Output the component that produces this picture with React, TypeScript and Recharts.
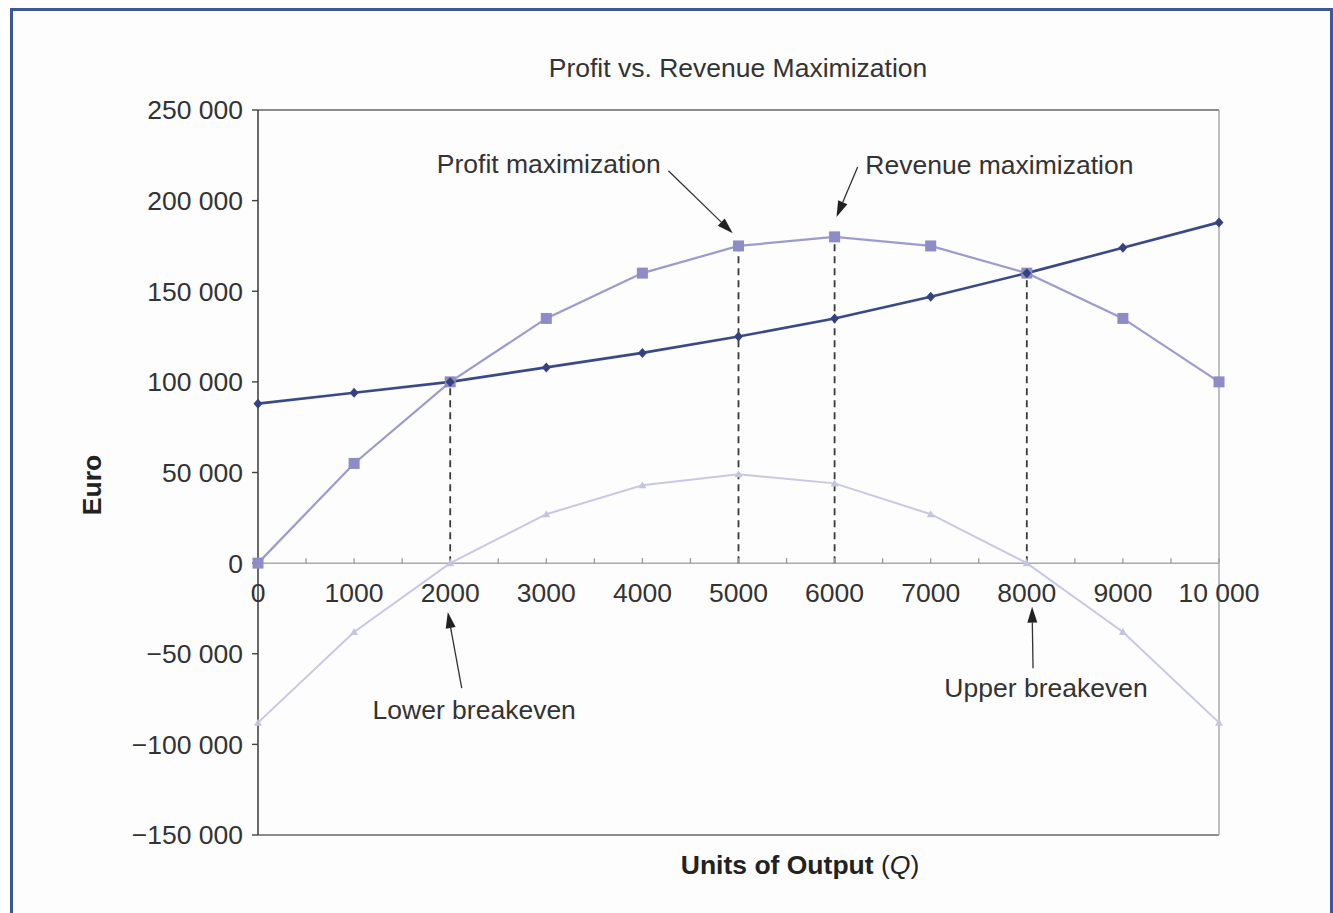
import React from 'react';
import {
  LineChart,
  Line,
  XAxis,
  YAxis,
  ReferenceLine,
  ReferenceDot,
} from 'recharts';

const quantities = [0, 1000, 2000, 3000, 4000, 5000, 6000, 7000, 8000, 9000, 10000];
const revenue = [0, 55000, 100000, 135000, 160000, 175000, 180000, 175000, 160000, 135000, 100000];
const totalCost = [88000, 94000, 100000, 108000, 116000, 125000, 135000, 147000, 160000, 174000, 188000];
const profit = [-88000, -38000, 0, 27000, 43000, 49000, 44000, 27000, 0, -38000, -88000];

const yTicks = [-150000, -100000, -50000, 0, 50000, 100000, 150000, 200000, 250000];
const xTicks = [0, 500, 1000, 1500, 2000, 2500, 3000, 3500, 4000, 4500, 5000, 5500, 6000, 6500, 7000, 7500, 8000, 8500, 9000, 9500, 10000];
const xTickLabels = ['0', '1000', '2000', '3000', '4000', '5000', '6000', '7000', '8000', '9000', '10 000'];

// quantities where a dashed drop line runs from the revenue curve to zero
const dropLineQs = [2000, 5000, 6000, 8000];

// callouts: text position, arrow tail and arrow head, in chart units
const callouts = [
  { text: 'Profit maximization', tx: 4190, ty: 220000, anchor: 'end', from: [4270, 216500], to: [4940, 182000] },
  { text: 'Revenue maximization', tx: 6320, ty: 219500, anchor: 'start', from: [6240, 218500], to: [6020, 191000] },
  { text: 'Lower breakeven', tx: 2250, ty: -81000, anchor: 'middle', from: [2120, -69000], to: [1975, -27000] },
  { text: 'Upper breakeven', tx: 8200, ty: -69000, anchor: 'middle', from: [8065, -58000], to: [8055, -24000] },
];

const chartData = quantities.map((q, i) => ({
  q,
  revenue: revenue[i],
  cost: totalCost[i],
  profit: profit[i],
}));

const FONT = '"Liberation Sans", Arial, Helvetica, sans-serif';
const TEXT = '#333';
const FS = 26.5;

const fmtEuro = (v: number) => {
  const abs = Math.abs(v).toString().replace(/\B(?=(\d{3})+(?!\d))/g, ' ');
  return v < 0 ? '\u2212' + abs : abs;
};

const SquareDot = (p: any) => (
  <rect key={`sq-${p.index}`} x={p.cx - 5.5} y={p.cy - 5.5} width={11} height={11} fill="#8c8cc6" />
);

const DiamondDot = (p: any) => (
  <polygon
    key={`di-${p.index}`}
    points={`${p.cx},${p.cy - 5} ${p.cx + 4.5},${p.cy} ${p.cx},${p.cy + 5} ${p.cx - 4.5},${p.cy}`}
    fill="#34437e"
  />
);

const TriangleDot = (p: any) => (
  <polygon
    key={`tr-${p.index}`}
    points={`${p.cx},${p.cy - 4} ${p.cx + 4},${p.cy + 3} ${p.cx - 4},${p.cy + 3}`}
    fill="#c4c4e2"
  />
);

function Arrow(props: any) {
  const { x1, y1, x2, y2 } = props;
  const ang = Math.atan2(y2 - y1, x2 - x1);
  const len = 16;
  const half = 5;
  const bx = x2 - len * Math.cos(ang);
  const by = y2 - len * Math.sin(ang);
  const px = -Math.sin(ang) * half;
  const py = Math.cos(ang) * half;
  return (
    <g>
      <line x1={x1} y1={y1} x2={bx} y2={by} stroke="#333" strokeWidth={1.3} />
      <polygon points={`${x2},${y2} ${bx + px},${by + py} ${bx - px},${by - py}`} fill="#222" />
    </g>
  );
}

export default function App() {
  return (
    <div style={{ position: 'absolute', left: 0, top: 0, width: 1333, height: 913, background: '#fff', overflow: 'hidden' }}>
      <div
        style={{
          position: 'absolute',
          left: 10,
          top: 8,
          width: 1317,
          height: 940,
          border: '3px solid #3d5898',
          background: '#fdfdfd',
        }}
      />
      <div style={{ position: 'absolute', left: 0, top: 0 }}>
        <LineChart
          width={1333}
          height={913}
          data={chartData}
          margin={{ top: 110, right: 114, bottom: 78, left: 158 }}
        >
          <XAxis dataKey="q" type="number" domain={[0, 10000]} hide />
          <YAxis
            type="number"
            domain={[-150000, 250000]}
            ticks={yTicks}
            interval={0}
            width={100}
            tickFormatter={fmtEuro}
            axisLine={{ stroke: '#444', strokeWidth: 1.6 }}
            tickLine={{ stroke: '#444', strokeWidth: 1.4 }}
            tickSize={6}
            tickMargin={9}
            tick={{ fontSize: FS, fill: TEXT, fontFamily: FONT }}
          />

          {/* plot frame */}
          <ReferenceLine y={250000} stroke="#666" strokeWidth={1.3} />
          <ReferenceLine y={-150000} stroke="#666" strokeWidth={1.3} />
          <ReferenceLine x={10000} stroke="#aaa" strokeWidth={1.5} />

          {/* x axis crossing at zero */}
          <ReferenceLine y={0} stroke="#aaa" strokeWidth={1.5} />
          {xTicks.map((v) => (
            <ReferenceDot
              key={`xt-${v}`}
              x={v}
              y={0}
              r={1}
              shape={(p: any) => {
                const lbl = v % 1000 === 0 ? xTickLabels[v / 1000] : null;
                return (
                  <g>
                    <line x1={p.cx} y1={p.cy} x2={p.cx} y2={p.cy - 5} stroke="#999" strokeWidth={1.3} />
                    {lbl !== null && (
                      <text x={p.cx} y={p.cy + 39} textAnchor="middle" fontSize={FS} fill={TEXT} fontFamily={FONT}>
                        {lbl}
                      </text>
                    )}
                  </g>
                );
              }}
            />
          ))}

          {/* dashed drop lines */}
          {dropLineQs.map((q) => (
            <ReferenceLine
              key={`dl-${q}`}
              segment={[
                { x: q, y: 0 },
                { x: q, y: revenue[quantities.indexOf(q)] },
              ]}
              stroke="#3a3a3a"
              strokeWidth={1.8}
              strokeDasharray="7 5"
            />
          ))}

          <Line
            dataKey="profit"
            stroke="#c8c8e6"
            strokeWidth={2}
            dot={TriangleDot}
            activeDot={false}
            isAnimationActive={false}
          />
          <Line
            dataKey="revenue"
            stroke="#9b9bd0"
            strokeWidth={2.2}
            dot={SquareDot}
            activeDot={false}
            isAnimationActive={false}
          />
          <Line
            dataKey="cost"
            stroke="#3a4a88"
            strokeWidth={2.6}
            dot={DiamondDot}
            activeDot={false}
            isAnimationActive={false}
          />

          {/* callouts */}
          {callouts.map((c) => (
            <ReferenceLine
              key={`ar-${c.text}`}
              segment={[
                { x: c.from[0], y: c.from[1] },
                { x: c.to[0], y: c.to[1] },
              ]}
              shape={Arrow}
            />
          ))}
          {callouts.map((c) => (
            <ReferenceDot
              key={`tx-${c.text}`}
              x={c.tx}
              y={c.ty}
              r={1}
              shape={(p: any) => (
                <text
                  x={p.cx}
                  y={p.cy + 9}
                  textAnchor={c.anchor as any}
                  fontSize={FS}
                  fill={TEXT}
                  fontFamily={FONT}
                >
                  {c.text}
                </text>
              )}
            />
          ))}
        </LineChart>
      </div>
      <svg width={1333} height={913} style={{ position: 'absolute', left: 0, top: 0, pointerEvents: 'none' }}>
        <text x={738} y={77} textAnchor="middle" fontSize={FS} fill={TEXT} fontFamily={FONT}>
          Profit vs. Revenue Maximization
        </text>
        <text x={800} y={874} textAnchor="middle" fontSize={FS} fill="#222" fontFamily={FONT} fontWeight="bold">
          Units of Output <tspan fontWeight="normal">(</tspan>
          <tspan fontWeight="normal" fontStyle="italic">Q</tspan>
          <tspan fontWeight="normal">)</tspan>
        </text>
        <text
          x={101}
          y={485}
          textAnchor="middle"
          fontSize={FS}
          fill="#222"
          fontFamily={FONT}
          fontWeight="bold"
          transform="rotate(-90 101 485)"
        >
          Euro
        </text>
      </svg>
    </div>
  );
}
